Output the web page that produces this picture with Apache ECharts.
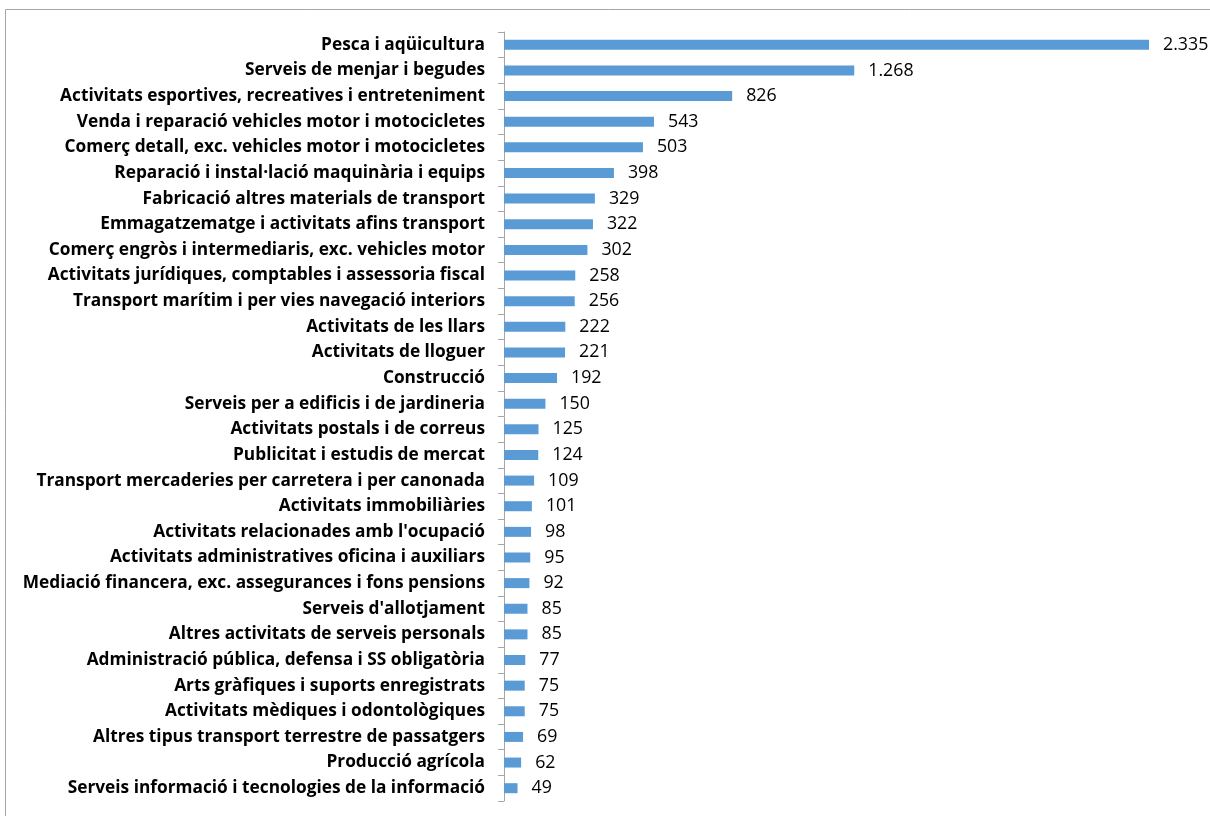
<!DOCTYPE html>
<html>
<head>
<meta charset="utf-8">
<script src="https://cdn.jsdelivr.net/npm/echarts@6/dist/echarts.min.js"></script>
<style>
  html, body { margin: 0; padding: 0; background: #fff; }
  #chart { width: 1210px; height: 816px; }
</style>
</head>
<body>
<div id="chart"></div>
<script>
// sectors, top to bottom
var sectors = [
  "Pesca i aqüicultura",
  "Serveis de menjar i begudes",
  "Activitats esportives, recreatives i entreteniment",
  "Venda i reparació vehicles motor i motocicletes",
  "Comerç detall, exc. vehicles motor i motocicletes",
  "Reparació i instal·lació maquinària i equips",
  "Fabricació altres materials de transport",
  "Emmagatzematge i activitats afins transport",
  "Comerç engròs i intermediaris, exc. vehicles motor",
  "Activitats jurídiques, comptables i assessoria fiscal",
  "Transport marítim i per vies navegació interiors",
  "Activitats de les llars",
  "Activitats de lloguer",
  "Construcció",
  "Serveis per a edificis i de jardineria",
  "Activitats postals i de correus",
  "Publicitat i estudis de mercat",
  "Transport mercaderies per carretera i per canonada",
  "Activitats immobiliàries",
  "Activitats relacionades amb l'ocupació",
  "Activitats administratives oficina i auxiliars",
  "Mediació financera, exc. assegurances i fons pensions",
  "Serveis d'allotjament",
  "Altres activitats de serveis personals",
  "Administració pública, defensa i SS obligatòria",
  "Arts gràfiques i suports enregistrats",
  "Activitats mèdiques i odontològiques",
  "Altres tipus transport terrestre de passatgers",
  "Producció agrícola",
  "Serveis informació i tecnologies de la informació"
];
var values = [2335, 1268, 826, 543, 503, 398, 329, 322, 302, 258, 256, 222, 221, 192,
  150, 125, 124, 109, 101, 98, 95, 92, 85, 85, 77, 75, 75, 69, 62, 49];

// 2335 -> "2.335"
function fmt(v) {
  return String(v).replace(/\B(?=(\d{3})+(?!\d))/g, '.');
}

var chart = echarts.init(document.getElementById('chart'));
chart.setOption({
  animation: false,
  graphic: [{
    type: 'polyline',
    shape: { points: [[5.5, 820], [5.5, 9.5], [1215, 9.5]] },
    style: { fill: null, stroke: '#a6a6a6', lineWidth: 1 }
  }],
  grid: { left: 504, right: 61, top: 32, bottom: 15, containLabel: false },
  xAxis: {
    type: 'value',
    min: 0,
    max: 2335,
    show: false
  },
  yAxis: {
    type: 'category',
    inverse: true,
    data: sectors,
    axisLine: { lineStyle: { color: '#a6a6a6' } },
    axisTick: { show: true, length: 6, lineStyle: { color: '#a6a6a6' } },
    axisLabel: {
      interval: 0,
      margin: 19,
      color: '#000',
      fontWeight: 'bold',
      fontSize: 17.3,
      fontFamily: 'Open Sans'
    },
    splitLine: { show: false }
  },
  series: [{
    type: 'bar',
    data: values,
    barWidth: 10,
    itemStyle: { color: '#5b9bd5' },
    label: {
      show: true,
      position: 'right',
      distance: 14,
      color: '#000',
      fontSize: 17.8,
      fontFamily: 'Open Sans',
      formatter: function (p) { return fmt(p.value); }
    }
  }]
});
</script>
</body>
</html>
